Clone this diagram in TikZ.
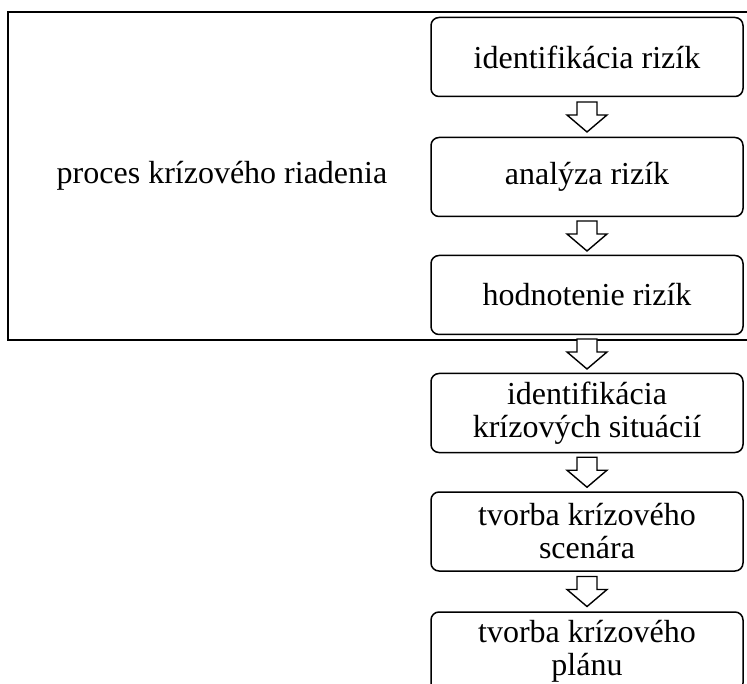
\documentclass[tikz,border=0pt]{standalone}
\usepackage{fontspec}
\setmainfont{Liberation Serif}
\usetikzlibrary{calc}
\tikzset{
  stepbox/.style={draw, line width=1.5pt, rounded corners=8pt, minimum width=312pt, minimum height=79pt, align=center, inner sep=0pt, font=\fontsize{32}{33}\selectfont},
  barrow/.style={draw, fill=white, line width=1.4pt, line join=miter},
  frame/.style={draw, line width=2pt},
  lbl/.style={font=\fontsize{32}{33}\selectfont, inner sep=0pt}
}
\newcommand{\blockarr}[2]{%
  \path let \p1 = ($(#1.south)!0.5!(#2.north)$) in
    [barrow] (\x1-10pt,\y1+15pt) -- (\x1+10pt,\y1+15pt) -- (\x1+10pt,\y1+2pt)
    -- (\x1+20pt,\y1+2pt) -- (\x1,\y1-15pt) -- (\x1-20pt,\y1+2pt)
    -- (\x1-10pt,\y1+2pt) -- cycle;}
\begin{document}
\begin{tikzpicture}[x=1pt,y=-1pt]
  \useasboundingbox (0,0) rectangle (747,684);
  \clip (0,0) rectangle (747,684);
  \draw[frame] (8,12) rectangle (770,340);
  \node[lbl] (proc) at (222,176) {proces krízového riadenia};
  \node[stepbox] (b1) at (587,57) {identifikácia rizík};
  \node[stepbox] (b2) at (587,177) {analýza rizík};
  \node[stepbox] (b3) at (587,295) {hodnotenie rizík};
  \node[stepbox] (b4) at (587,413) {identifikácia\\krízových situácií};
  \node[stepbox] (b5) at (587,531.5) {tvorba krízového\\scenára};
  \node[stepbox] (b6) at (587,651.5) {tvorba krízového\\plánu};
  \blockarr{b1}{b2}
  \blockarr{b2}{b3}
  \blockarr{b3}{b4}
  \blockarr{b4}{b5}
  \blockarr{b5}{b6}
\end{tikzpicture}
\end{document}
